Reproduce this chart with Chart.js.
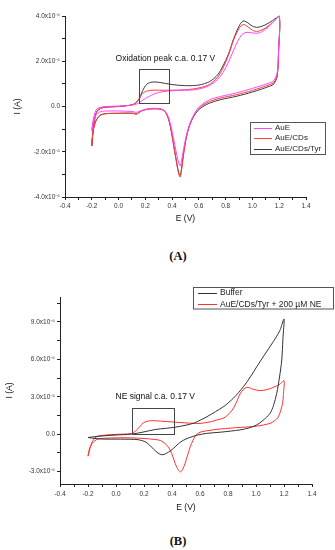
<!DOCTYPE html>
<html>
<head>
<meta charset="utf-8">
<script src="https://cdn.jsdelivr.net/npm/chart.js@4.4.1/dist/chart.umd.min.js"></script>
<style>
  body { margin: 0; background: #fff; width: 335px; height: 550px; position: relative; overflow: hidden; }
  canvas { position: absolute; left: 0; }
  .panel { position: absolute; width: 60px; margin-left: -30px; text-align: center;
           font: bold 12.5px "Liberation Serif", "Times New Roman", serif; color: #111; }
</style>
</head>
<body>
<canvas id="chartA" width="335" height="235" style="top:0"></canvas>
<div class="panel" style="left:178px; top:249px">(A)</div>
<canvas id="chartB" width="335" height="250" style="top:270px"></canvas>
<div class="panel" style="left:178px; top:534px">(B)</div>
<script>
// Ejes (E en V, I en unidades de 10^-6 A)
const eTicks = [-0.4, -0.2, 0.0, 0.2, 0.4, 0.6, 0.8, 1.0, 1.2, 1.4];
const eTickLabels = ['-0.4', '-0.2', '0.0', '0.2', '0.4', '0.6', '0.8', '1.0', '1.2', '1.4'];
const iTicksA = [-4, -2, 0, 2, 4];
const iTickLabelsA = ['-4.0x10\u207B\u2076', '-2.0x10\u207B\u2076', '0.0', '2.0x10\u207B\u2076', '4.0x10\u207B\u2076'];
const iTicksB = [-3, 0, 3, 6, 9];
const iTickLabelsB = ['-3.0x10\u207B\u2076', '0.0', '3.0x10\u207B\u2076', '6.0x10\u207B\u2076', '9.0x10\u207B\u2076'];

// Panel A: voltametrias [E, I]
const auE = [
  [-0.2, -1.06], [-0.19, -0.6], [-0.175, -0.25], [-0.16, -0.1], [-0.13, -0.03], [-0.1, 0.0], [0.0, 0.02],
  [0.08, 0.05], [0.12, 0.08], [0.15, 0.15], [0.18, 0.28], [0.22, 0.42], [0.26, 0.54], [0.3, 0.62],
  [0.36, 0.68], [0.45, 0.71], [0.55, 0.73], [0.62, 0.8], [0.68, 0.93], [0.74, 1.2], [0.78, 1.5],
  [0.82, 1.95], [0.86, 2.5], [0.9, 3.0], [0.93, 3.22], [0.96, 3.28], [1.0, 3.25], [1.05, 3.25],
  [1.1, 3.42], [1.15, 3.7], [1.2, 4.0],
  [1.195, 2.5], [1.185, 1.5], [1.16, 1.15], [1.13, 1.05], [1.0, 0.8], [0.88, 0.6], [0.76, 0.44],
  [0.68, 0.3], [0.63, 0.12], [0.59, -0.1], [0.56, -0.4], [0.53, -0.8], [0.505, -1.3], [0.485, -1.9],
  [0.47, -2.4], [0.46, -2.62], [0.45, -2.5], [0.435, -2.15], [0.42, -1.7], [0.4, -1.1], [0.38, -0.6],
  [0.36, -0.3], [0.33, -0.13], [0.28, -0.08], [0.23, -0.09], [0.19, -0.15], [0.15, -0.22], [0.13, -0.26],
  [0.1, -0.22], [0.0, -0.2], [-0.1, -0.2], [-0.14, -0.24], [-0.17, -0.4], [-0.19, -0.7], [-0.2, -1.06]
];
const auECDs = [
  [-0.2, -1.74], [-0.19, -1.0], [-0.175, -0.45], [-0.16, -0.2], [-0.13, -0.07], [-0.1, -0.03], [0.0, 0.0],
  [0.08, 0.05], [0.12, 0.12], [0.15, 0.3], [0.18, 0.58], [0.21, 0.68], [0.25, 0.72], [0.3, 0.72],
  [0.4, 0.72], [0.5, 0.74], [0.6, 0.82], [0.68, 0.98], [0.74, 1.3], [0.78, 1.7], [0.82, 2.25],
  [0.86, 2.95], [0.9, 3.45], [0.93, 3.62], [0.96, 3.55], [1.0, 3.37], [1.04, 3.32], [1.1, 3.48],
  [1.15, 3.72], [1.2, 4.0],
  [1.195, 2.4], [1.185, 1.4], [1.16, 1.06], [1.13, 0.97], [1.0, 0.71], [0.88, 0.52], [0.76, 0.37],
  [0.68, 0.22], [0.63, 0.06], [0.59, -0.14], [0.56, -0.4], [0.53, -0.82], [0.505, -1.4], [0.485, -2.15],
  [0.47, -2.85], [0.46, -3.12], [0.45, -3.0], [0.435, -2.55], [0.42, -2.02], [0.4, -1.3], [0.38, -0.7],
  [0.36, -0.35], [0.33, -0.15], [0.28, -0.1], [0.23, -0.11], [0.2, -0.14], [0.17, -0.2], [0.15, -0.28],
  [0.13, -0.34], [0.11, -0.3], [0.0, -0.3], [-0.1, -0.32], [-0.14, -0.4], [-0.17, -0.65], [-0.19, -1.1],
  [-0.2, -1.74]
];
const auECDsTyr = [
  [-0.2, -1.74], [-0.19, -1.0], [-0.175, -0.45], [-0.16, -0.2], [-0.13, -0.07], [-0.1, -0.03], [0.0, 0.0],
  [0.08, 0.05], [0.12, 0.12], [0.15, 0.3], [0.18, 0.7], [0.21, 0.98], [0.25, 1.08], [0.3, 1.07],
  [0.4, 0.97], [0.5, 0.92], [0.6, 0.95], [0.68, 1.1], [0.74, 1.4], [0.78, 1.8], [0.82, 2.3],
  [0.86, 3.0], [0.9, 3.55], [0.93, 3.78], [0.96, 3.72], [1.0, 3.55], [1.04, 3.5], [1.1, 3.62],
  [1.15, 3.8], [1.2, 4.0],
  [1.195, 2.4], [1.185, 1.35], [1.16, 1.0], [1.13, 0.9], [1.0, 0.64], [0.88, 0.45], [0.76, 0.3],
  [0.68, 0.15], [0.63, 0.0], [0.59, -0.2], [0.56, -0.45], [0.53, -0.85], [0.505, -1.4], [0.485, -2.1],
  [0.47, -2.75], [0.46, -3.05], [0.45, -2.95], [0.435, -2.5], [0.42, -2.0], [0.4, -1.3], [0.38, -0.7],
  [0.36, -0.35], [0.33, -0.15], [0.28, -0.1], [0.23, -0.11], [0.2, -0.14], [0.17, -0.2], [0.15, -0.28],
  [0.13, -0.34], [0.11, -0.3], [0.0, -0.3], [-0.1, -0.32], [-0.14, -0.4], [-0.17, -0.65], [-0.19, -1.1],
  [-0.2, -1.74]
];

// Panel B
const buffer = [
  [-0.2, -0.27], [-0.15, -0.2], [-0.08, -0.13], [0.0, -0.07], [0.11, 0.0], [0.2, 0.18], [0.28, 0.37],
  [0.36, 0.47], [0.42, 0.55], [0.5, 0.72], [0.56, 0.9], [0.65, 1.4], [0.71, 1.8], [0.77, 2.22],
  [0.84, 2.9], [0.91, 3.8], [0.96, 4.6], [1.005, 5.4], [1.06, 6.35], [1.124, 7.43], [1.17, 8.3], [1.2, 9.23],
  [1.192, 7.6], [1.184, 5.95], [1.167, 4.5], [1.148, 3.27], [1.125, 2.3], [1.1, 1.66], [1.05, 1.1],
  [1.005, 0.74], [0.95, 0.5], [0.886, 0.34], [0.75, 0.16], [0.648, 0.06], [0.58, -0.08], [0.52, -0.3],
  [0.48, -0.5], [0.445, -0.78], [0.41, -1.15], [0.374, -1.45], [0.345, -1.62], [0.326, -1.65], [0.3, -1.52],
  [0.27, -1.22], [0.24, -0.88], [0.21, -0.62], [0.17, -0.47], [0.13, -0.42], [0.0, -0.4], [-0.08, -0.4],
  [-0.15, -0.35], [-0.2, -0.27]
];
const tyrNE = [
  [-0.2, -1.77], [-0.185, -1.1], [-0.17, -0.62], [-0.15, -0.3], [-0.13, -0.16], [-0.05, -0.05], [0.05, 0.0],
  [0.11, 0.05], [0.14, 0.25], [0.17, 0.6], [0.195, 0.91], [0.23, 1.05], [0.26, 1.08], [0.32, 1.04],
  [0.4, 0.98], [0.5, 0.9], [0.6, 0.86], [0.68, 1.0], [0.72, 1.13], [0.77, 1.3], [0.81, 1.66],
  [0.84, 2.1], [0.862, 2.6], [0.89, 3.3], [0.933, 3.75], [0.98, 3.6], [1.03, 3.49], [1.08, 3.58],
  [1.124, 3.75], [1.17, 4.0], [1.2, 4.29],
  [1.195, 3.1], [1.19, 2.47], [1.16, 1.39], [1.13, 1.05], [1.1, 0.86], [1.005, 0.64], [0.886, 0.54],
  [0.75, 0.42], [0.648, 0.27], [0.6, 0.15], [0.57, -0.1], [0.55, -0.5], [0.53, -1.02], [0.51, -1.75],
  [0.493, -2.36], [0.475, -2.85], [0.46, -3.03], [0.445, -2.85], [0.433, -2.63], [0.415, -2.1],
  [0.398, -1.56], [0.375, -1.05], [0.35, -0.75], [0.32, -0.52], [0.28, -0.43], [0.2, -0.35], [0.11, -0.3],
  [0.0, -0.3], [-0.13, -0.4], [-0.17, -0.75], [-0.19, -1.2], [-0.2, -1.77]
];

const FONT = '"Liberation Sans", Arial, sans-serif';
const toXY = arr => arr.map(([x, y]) => ({ x, y }));

// marcas menores a mitad de camino entre las mayores
function withMinor(majors, min, max) {
  const step = majors[1] - majors[0];
  const all = [];
  majors.forEach(m => { all.push(m - step / 2, m); });
  all.push(majors[majors.length - 1] + step / 2);
  return all.map(v => Math.round(v * 1000) / 1000).filter(v => v >= min - 1e-9 && v <= max + 1e-9);
}
function labeler(majors, labels) {
  return v => {
    const i = majors.findIndex(m => Math.abs(m - v) < 1e-6);
    return i >= 0 ? labels[i] : '';
  };
}

// leyenda con marco dentro del grafico
const boxLegend = {
  id: 'boxLegend',
  afterDraw(chart, args, o) {
    const ctx = chart.ctx;
    ctx.save();
    ctx.strokeStyle = '#555';
    ctx.lineWidth = 1;
    ctx.strokeRect(o.x + 0.5, o.y + 0.5, o.w, o.h);
    ctx.font = o.size + 'px ' + FONT;
    ctx.textBaseline = 'middle';
    ctx.fillStyle = '#222';
    chart.data.datasets.forEach((ds, i) => {
      const yy = o.y + o.first + i * o.row;
      ctx.strokeStyle = ds.borderColor;
      ctx.beginPath();
      ctx.moveTo(o.x + o.line[0], Math.round(yy) + 0.5);
      ctx.lineTo(o.x + o.line[1], Math.round(yy) + 0.5);
      ctx.stroke();
      ctx.fillText(ds.label, o.x + o.textX, yy);
    });
    ctx.restore();
  }
};

// recuadro y texto de la senal
const boxNote = {
  id: 'boxNote',
  afterDatasetsDraw(chart, args, o) {
    const { ctx, scales: { x, y } } = chart;
    const l = Math.round(x.getPixelForValue(o.box[0])), r = Math.round(x.getPixelForValue(o.box[1]));
    const b = Math.round(y.getPixelForValue(o.box[2])), t = Math.round(y.getPixelForValue(o.box[3]));
    ctx.save();
    ctx.strokeStyle = '#444';
    ctx.lineWidth = 1;
    ctx.strokeRect(l + 0.5, t + 0.5, r - l, b - t);
    ctx.font = '8.5px ' + FONT;
    ctx.fillStyle = '#111';
    ctx.textAlign = 'center';
    ctx.textBaseline = 'middle';
    ctx.fillText(o.text, x.getPixelForValue(o.at[0]), y.getPixelForValue(o.at[1]));
    ctx.restore();
  }
};

function axis(c) {
  return {
    type: 'linear',
    position: c.position,
    min: c.min,
    max: c.max,
    afterBuildTicks: s => { s.ticks = withMinor(c.majors, c.min, c.max).map(v => ({ value: v })); },
    afterFit: s => { if (c.position === 'left') s.width = c.size; else s.height = c.size; },
    ticks: { autoSkip: false, maxRotation: 0, padding: c.tickPad, color: '#333',
             font: { size: 6.5, family: FONT }, callback: labeler(c.majors, c.labels) },
    grid: { drawOnChartArea: false, drawTicks: true, tickLength: 3, color: '#222' },
    border: { display: true, color: '#222', width: 1 },
    title: { display: true, text: c.title, color: '#111', font: { size: 8.5, family: FONT },
             padding: c.position === 'left' ? { top: c.titlePad } : { bottom: c.titlePad } }
  };
}

function curve(label, arr, color) {
  return { label, data: toXY(arr), borderColor: color, borderWidth: 1, pointRadius: 0,
           showLine: true, fill: false, tension: 0.3, clip: 4 };
}

new Chart(document.getElementById('chartA'), {
  type: 'scatter',
  data: {
    datasets: [
      curve('AuE', auE, '#ff44ff'),
      curve('AuE/CDs', auECDs, '#ff3b3b'),
      curve('AuE/CDs/Tyr', auECDsTyr, '#3a3a3a')
    ]
  },
  options: {
    responsive: false, animation: false, devicePixelRatio: 1,
    layout: { padding: { left: 0, top: 16, right: 29, bottom: 0 } },
    plugins: {
      legend: { display: false }, tooltip: { enabled: false },
      boxLegend: { x: 250, y: 122, w: 75, h: 32, first: 5.5, row: 10.6, line: [4, 22], textX: 25, size: 8 },
      boxNote: { box: [0.155, 0.38, 0.14, 1.65], text: 'Oxidation peak c.a. 0.17 V', at: [0.35, 2.1] }
    },
    scales: {
      x: axis({ position: 'bottom', min: -0.4, max: 1.4, majors: eTicks, labels: eTickLabels,
                size: 38, tickPad: 2, title: 'E (V)', titlePad: 11 }),
      y: axis({ position: 'left', min: -4, max: 4, majors: iTicksA, labels: iTickLabelsA,
                size: 65, tickPad: 2, title: 'I (A)', titlePad: 13 })
    }
  },
  plugins: [boxLegend, boxNote]
});

new Chart(document.getElementById('chartB'), {
  type: 'scatter',
  data: {
    datasets: [
      curve('Buffer', buffer, '#333333'),
      curve('AuE/CDs/Tyr + 200 \u00B5M NE', tyrNE, '#ff3030')
    ]
  },
  options: {
    responsive: false, animation: false, devicePixelRatio: 1,
    layout: { padding: { left: 0, top: 27, right: 23, bottom: 0 } },
    plugins: {
      legend: { display: false }, tooltip: { enabled: false },
      boxLegend: { x: 193, y: 17, w: 140, h: 21.5, first: 5.6, row: 11.7, line: [5, 24], textX: 27, size: 8.5 },
      boxNote: { box: [0.115, 0.415, 0.0, 2.07], text: 'NE signal c.a. 0.17 V', at: [0.28, 2.98] }
    },
    scales: {
      x: axis({ position: 'bottom', min: -0.4, max: 1.4, majors: eTicks, labels: eTickLabels,
                size: 36, tickPad: 3, title: 'E (V)', titlePad: 7 }),
      y: axis({ position: 'left', min: -4, max: 11, majors: iTicksB, labels: iTickLabelsB,
                size: 60, tickPad: 2, title: 'I (A)', titlePad: 5 })
    }
  },
  plugins: [boxLegend, boxNote]
});
</script>
</body>
</html>
